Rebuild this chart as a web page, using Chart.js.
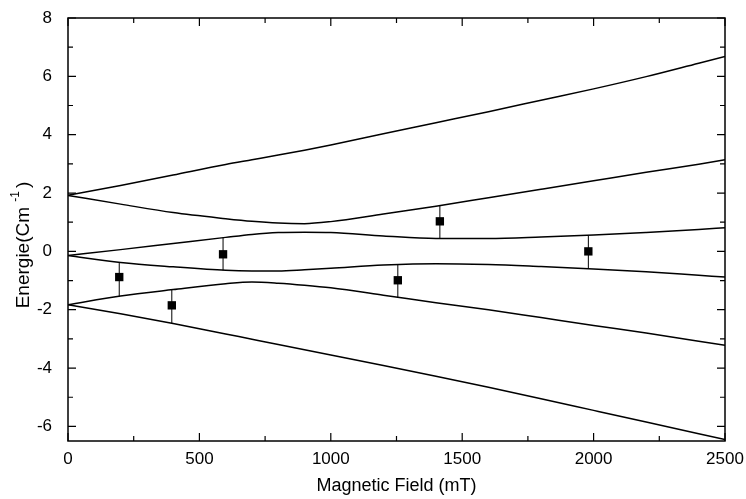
<!DOCTYPE html>
<html>
<head>
<meta charset="utf-8">
<script src="https://cdn.jsdelivr.net/npm/chart.js@4/dist/chart.umd.min.js"></script>
<style>
  html, body { margin: 0; padding: 0; background: #fff; }
  #zeeman { display: block; }
</style>
</head>
<body>
<canvas id="zeeman" width="746" height="499"></canvas>
<script>
// Field grid (mT) shared by the calculated level curves
const fieldGrid = [0, 200, 400, 600, 700, 800, 900, 1000, 1200, 1400, 1600, 1800, 2000, 2200, 2400, 2500];

// Calculated energy levels (cm-1), top to bottom
const level1 = [1.92, 2.26, 2.62, 2.98, 3.14, 3.30, 3.47, 3.65, 4.03, 4.41, 4.79, 5.18, 5.57, 5.99, 6.45, 6.68];
const level2 = [1.92, 1.62, 1.33, 1.12, 1.03, 0.97, 0.95, 1.02, 1.28, 1.55, 1.84, 2.13, 2.42, 2.71, 2.99, 3.14];
const level3 = [-0.14, 0.06, 0.27, 0.48, 0.58, 0.645, 0.66, 0.65, 0.53, 0.44, 0.44, 0.49, 0.56, 0.65, 0.75, 0.81];
const level4 = [-0.14, -0.38, -0.53, -0.65, -0.67, -0.67, -0.63, -0.58, -0.47, -0.42, -0.45, -0.52, -0.60, -0.70, -0.82, -0.88];
const level5 = [-1.83, -1.53, -1.31, -1.11, -1.05, -1.09, -1.16, -1.25, -1.50, -1.76, -2.00, -2.27, -2.54, -2.80, -3.08, -3.22];
const level6 = [-1.83, -2.14, -2.47, -2.83, -3.01, -3.19, -3.37, -3.55, -3.91, -4.28, -4.66, -5.05, -5.45, -5.85, -6.25, -6.45];

// Measured points with their error range
const fieldPts = [195, 395, 590, 1255, 1415, 1980];
const energyPts = [-0.88, -1.85, -0.10, -0.99, 1.03, 0.0];
const errLow = [-1.54, -2.46, -0.65, -1.59, 0.43, -0.59];
const errHigh = [-0.37, -1.31, 0.47, -0.45, 1.57, 0.55];

// Axis ticks
const xTicks = [0, 250, 500, 750, 1000, 1250, 1500, 1750, 2000, 2250, 2500];
const yTicks = [-6, -5, -4, -3, -2, -1, 0, 1, 2, 3, 4, 5, 6, 7, 8];

const FONT = "'Liberation Sans', Arial, sans-serif";

const curveSet = (vals) => ({
    type: "line",
    data: fieldGrid.map((f, i) => ({ x: f, y: vals[i] })),
    borderColor: "#000",
    borderWidth: 1.5,
    pointRadius: 0,
    cubicInterpolationMode: "monotone",
    fill: false
});

const datasets = [level1, level2, level3, level4, level5, level6].map(curveSet);

// error bars, one short line each
fieldPts.forEach((f, i) => {
    datasets.push({
        type: "line",
        data: [{ x: f, y: errLow[i] }, { x: f, y: errHigh[i] }],
        borderColor: "#000",
        borderWidth: 1,
        pointRadius: 0,
        fill: false
    });
});

datasets.push({
    type: "scatter",
    data: fieldPts.map((f, i) => ({ x: f, y: energyPts[i] })),
    pointStyle: "rect",
    pointRadius: 5.9,
    backgroundColor: "#000",
    borderColor: "#000",
    borderWidth: 0
});

// box around the plot with inward ticks on all four sides
const framePlugin = {
    id: "frame",
    afterDatasetsDraw(chart) {
        const { ctx, chartArea: a, scales } = chart;
        ctx.save();
        ctx.strokeStyle = "#000";
        ctx.lineWidth = 1.5;
        ctx.strokeRect(a.left, a.top, a.right - a.left, a.bottom - a.top);
        ctx.lineWidth = 1.2;
        ctx.beginPath();
        xTicks.forEach(v => {
            const px = scales.x.getPixelForValue(v);
            const len = v % 500 === 0 ? 8 : 5;
            ctx.moveTo(px, a.bottom); ctx.lineTo(px, a.bottom - len);
            ctx.moveTo(px, a.top); ctx.lineTo(px, a.top + len);
        });
        yTicks.forEach(v => {
            const py = scales.y.getPixelForValue(v);
            const len = v % 2 === 0 ? 8 : 5;
            ctx.moveTo(a.left, py); ctx.lineTo(a.left + len, py);
            ctx.moveTo(a.right, py); ctx.lineTo(a.right - len, py);
        });
        ctx.stroke();

        // y title with superscript
        const midY = 245;
        ctx.translate(29, midY);
        ctx.rotate(-Math.PI / 2);
        ctx.fillStyle = "#000";
        ctx.textBaseline = "alphabetic";
        ctx.textAlign = "left";
        const main = "Energie(Cm ";
        const sup = "-1";
        const close = ")";
        ctx.font = "19px " + FONT;
        const wMain = ctx.measureText(main).width;
        const wClose = ctx.measureText(close).width;
        ctx.font = "12px " + FONT;
        const wSup = ctx.measureText(sup).width + 3;
        let x0 = -(wMain + wSup + wClose) / 2;
        ctx.font = "19px " + FONT;
        ctx.fillText(main, x0, 0);
        ctx.font = "12px " + FONT;
        ctx.fillText(sup, x0 + wMain, -10);
        ctx.font = "19px " + FONT;
        ctx.fillText(close, x0 + wMain + wSup, 0);
        ctx.restore();
    }
};

const config = {
    data: { datasets: datasets },
    options: {
        responsive: false,
        animation: false,
        devicePixelRatio: 1,
        layout: { padding: { left: 0, top: 18, right: 21, bottom: 0 } },
        plugins: {
            legend: { display: false },
            tooltip: { enabled: false }
        },
        scales: {
            x: {
                type: "linear",
                position: "bottom",
                min: 0,
                max: 2500,
                grid: { display: false, drawTicks: false },
                border: { display: false },
                afterBuildTicks: s => { s.ticks = xTicks.map(v => ({ value: v })); },
                afterFit: s => { s.height = 58; s.paddingLeft = 0; s.paddingRight = 0; },
                ticks: {
                    autoSkip: false,
                    maxRotation: 0,
                    padding: 8,
                    color: "#000",
                    font: { family: FONT, size: 17 },
                    callback: v => (v % 500 === 0 ? String(v) : "")
                },
                title: {
                    display: true,
                    text: "Magnetic Field (mT)",
                    color: "#000",
                    font: { family: FONT, size: 18 },
                    padding: { top: 2, bottom: 2 }
                }
            },
            y: {
                type: "linear",
                min: -6.5,
                max: 8,
                grid: { display: false, drawTicks: false },
                border: { display: false },
                afterBuildTicks: s => { s.ticks = yTicks.map(v => ({ value: v })); },
                afterFit: s => { s.width = 68; s.paddingTop = 0; s.paddingBottom = 0; },
                ticks: {
                    autoSkip: false,
                    padding: 16,
                    color: "#000",
                    font: { family: FONT, size: 17 },
                    callback: v => (v % 2 === 0 ? String(v) : "")
                }
            }
        }
    },
    plugins: [framePlugin]
};

document.addEventListener("DOMContentLoaded", () => {
    new Chart(document.getElementById("zeeman").getContext("2d"), config);
});
</script>
</body>
</html>
